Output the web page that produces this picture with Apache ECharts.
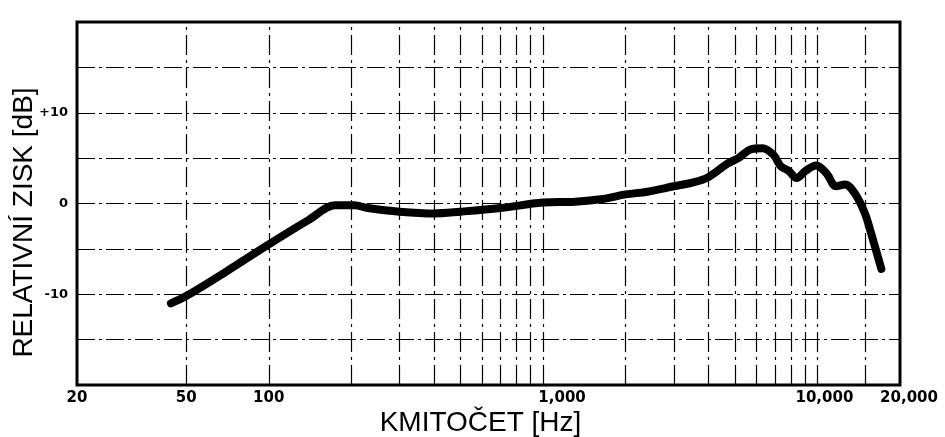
<!DOCTYPE html>
<html>
<head>
<meta charset="utf-8">
<script src="https://cdn.jsdelivr.net/npm/echarts@6/dist/echarts.min.js"></script>
<style>
html,body{margin:0;padding:0;background:#fff;}
#c{width:945px;height:437px;}
</style>
</head>
<body>
<div id="c"></div>
<script>
// Frequency response data
const freqHz = [44, 50, 70, 100, 140, 175, 205, 230, 300, 400, 500, 700, 1000, 1310, 1650, 2000, 2400, 3000, 3500, 4000, 4700, 5150, 5750, 6300, 6900, 7350, 7850, 8400, 9050, 9900, 10800, 11700, 12600, 13700, 14900, 15700, 17100];
const gainDb = [-11.0, -10.2, -7.5, -4.5, -1.8, -0.2, -0.2, -0.5, -0.9, -1.1, -0.9, -0.5, 0.1, 0.2, 0.5, 1.0, 1.3, 1.9, 2.3, 2.9, 4.4, 5.0, 6.0, 6.1, 5.4, 4.1, 3.6, 2.8, 3.6, 4.2, 3.3, 1.9, 2.1, 1.1, -1.1, -3.3, -7.2];

// Axis labels
const xTickValues = [20, 50, 100, 1000, 10000, 20000];
const xTickLabels = ['20', '50', '100', '1,000', '10,000', '20,000'];
const yTickValues = [10, 0, -10];
const yTickLabels = ['+10', '0', '-10'];

// Vertical grid lines (Hz)
const gridFreqs = [50, 100, 200, 300, 400, 500, 600, 700, 800, 900, 1000, 2000, 3000, 4000, 5000, 6000, 7000, 8000, 9000, 10000, 15000];

const xTitle = 'KMITOČET [Hz]';
const yTitle = 'RELATIVNÍ ZISK [dB]';

const chart = echarts.init(document.getElementById('c'), null, {renderer: 'canvas'});

const labelShift = {'1,000': 38, '10,000': 14, '20,000': 18};
const gridStyle = {color: '#000', width: 1.2, type: [18, 4, 3, 4]};

chart.setOption({
  animation: false,
  backgroundColor: '#fff',
  grid: {left: 77, right: 45, top: 22, bottom: 52, show: true, borderColor: '#000', borderWidth: 3, backgroundColor: 'transparent', containLabel: false, outerBoundsMode: 'none'},
  xAxis: {
    type: 'log',
    logBase: 10,
    min: 20,
    max: 20000,
    name: xTitle,
    nameLocation: 'middle',
    nameGap: 24,
    nameMoveOverlap: false,
    nameTextStyle: {fontFamily: 'Liberation Sans', fontSize: 28, color: '#000', padding: [0, 16, 0, 0]},
    axisLine: {show: false},
    axisTick: {show: false},
    splitLine: {show: false},
    minorSplitLine: {show: false},
    axisLabel: {
      customValues: xTickValues,
      showMinLabel: true,
      showMaxLabel: true,
      margin: 6,
      color: '#000',
      fontFamily: 'DejaVu Sans',
      fontWeight: 'bold',
      fontSize: 15,
      formatter: function (v) {
        let idx = -1;
        for (let i = 0; i < xTickValues.length; i++) {
          if (Math.abs(xTickValues[i] - v) / xTickValues[i] < 0.01) idx = i;
        }
        if (idx < 0) return '';
        const s = xTickLabels[idx];
        if (labelShift[s]) return '{s' + idx + '|' + s + '}';
        return s;
      },
      rich: {
        s3: {padding: [0, 0, 0, 38], fontFamily: 'DejaVu Sans', fontWeight: 'bold', fontSize: 15, color: '#000'},
        s4: {padding: [0, 0, 0, 14], fontFamily: 'DejaVu Sans', fontWeight: 'bold', fontSize: 15, color: '#000'},
        s5: {padding: [0, 0, 0, 18], fontFamily: 'DejaVu Sans', fontWeight: 'bold', fontSize: 15, color: '#000'}
      }
    }
  },
  yAxis: {
    type: 'value',
    min: -20,
    max: 20,
    interval: 5,
    name: yTitle,
    nameLocation: 'middle',
    nameGap: 39,
    nameRotate: 90,
    nameMoveOverlap: false,
    nameTextStyle: {fontFamily: 'Liberation Sans', fontSize: 28, color: '#000', padding: [0, 38, 0, 0]},
    axisLine: {show: false},
    axisTick: {show: false},
    splitLine: {show: true, lineStyle: gridStyle},
    axisLabel: {
      margin: 9,
      color: '#000',
      fontFamily: 'DejaVu Sans',
      fontWeight: 'bold',
      fontSize: 13,
      formatter: function (v) {
        const i = yTickValues.indexOf(v);
        return i >= 0 ? yTickLabels[i] : '';
      }
    }
  },
  series: [{
    type: 'line',
    data: freqHz.map((f, i) => [f, gainDb[i]]),
    showSymbol: false,
    symbol: 'none',
    smooth: 0.35,
    lineStyle: {color: '#000', width: 8, cap: 'round', join: 'round'},
    z: 5,
    markLine: {
      silent: true,
      symbol: ['none', 'none'],
      label: {show: false},
      lineStyle: {color: '#000', width: 1.2, type: [20, 5, 3, 5]},
      data: gridFreqs.map(f => ({xAxis: f}))
    }
  }]
});
</script>
</body>
</html>
